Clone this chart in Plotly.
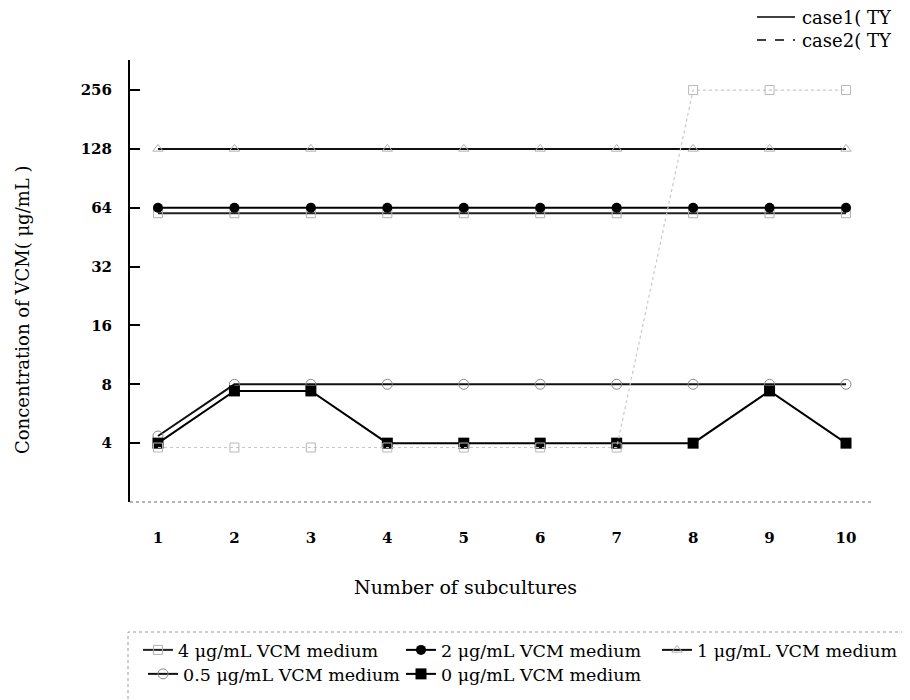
import plotly.graph_objects as go

subcultures = [1, 2, 3, 4, 5, 6, 7, 8, 9, 10]
x_tick_labels = ["1", "2", "3", "4", "5", "6", "7", "8", "9", "10"]
y_tick_values = [4, 8, 16, 32, 64, 128, 256]
y_tick_labels = ["4", "8", "16", "32", "64", "128", "256"]

vcm4_case1 = [60, 60, 60, 60, 60, 60, 60, 60, 60, 60]
vcm4_case2 = [3.8, 3.8, 3.8, 3.8, 3.8, 3.8, 3.8, 256, 256, 256]
vcm2 = [64, 64, 64, 64, 64, 64, 64, 64, 64, 64]
vcm1 = [128, 128, 128, 128, 128, 128, 128, 128, 128, 128]
vcm05 = [4.35, 8, 8, 8, 8, 8, 8, 8, 8, 8]
vcm0 = [4, 7.4, 7.4, 4, 4, 4, 4, 4, 7.4, 4]

WIDE = "DejaVu Serif"

# plot area on screen: x 130..872, y 60..502 (page has 8px body offset)
def px(xs):
    return (xs - 130) / 742

def py(ys):
    return (502 - ys) / 442

# container coordinates (whole figure), screen offset 8px
def cx(xs):
    return (xs - 8) / 910

def cy(ys):
    return 1 - (ys - 8) / 700

fig = go.Figure()

fig.add_trace(go.Scatter(
    x=subcultures, y=vcm4_case1, mode="lines+markers", name="4 μg/mL VCM medium",
    line=dict(color="#222222", width=2),
    marker=dict(symbol="square-open", size=9, color="#b0b0b0", line=dict(width=1)),
    legend="legend",
))
fig.add_trace(go.Scatter(
    x=subcultures, y=vcm2, mode="lines+markers", name="2 μg/mL VCM medium",
    line=dict(color="#000000", width=2),
    marker=dict(symbol="circle", size=10, color="#000000"),
    legend="legend2",
))
fig.add_trace(go.Scatter(
    x=subcultures, y=vcm1, mode="lines+markers", name="1 μg/mL VCM medium",
    line=dict(color="#111111", width=2),
    marker=dict(symbol="triangle-up-open", size=9, color="#b0b0b0", line=dict(width=1)),
    legend="legend3",
))
fig.add_trace(go.Scatter(
    x=subcultures, y=vcm05, mode="lines+markers", name="0.5 μg/mL VCM medium",
    line=dict(color="#111111", width=2),
    marker=dict(symbol="circle-open", size=10, color="#888888", line=dict(width=1)),
    legend="legend4",
))
fig.add_trace(go.Scatter(
    x=subcultures, y=vcm0, mode="lines+markers", name="0 μg/mL VCM medium",
    line=dict(color="#000000", width=2),
    marker=dict(symbol="square", size=11, color="#000000"),
    legend="legend5",
))
fig.add_trace(go.Scatter(
    x=subcultures, y=vcm4_case2, mode="lines+markers", name="4 μg/mL VCM medium (case2)",
    showlegend=False,
    line=dict(color="#c8c8c8", width=1.2, dash="dot"),
    marker=dict(symbol="square-open", size=9, color="#b8b8b8", line=dict(width=1)),
))

legend_common = dict(
    orientation="h", xanchor="left", yanchor="top",
    xref="container", yref="container",
    font=dict(family=WIDE, size=17.5, color="black"),
    itemwidth=30, bgcolor="rgba(0,0,0,0)", borderwidth=0,
)
ROW1 = cy(632)
ROW2 = cy(656)

fig.update_layout(
    width=910, height=700,
    margin=dict(l=122, r=46, t=52, b=206),
    paper_bgcolor="white", plot_bgcolor="white",
    font=dict(family=WIDE, size=16, color="black"),
    showlegend=True,
    legend=dict(x=cx(138), y=ROW1, **legend_common),
    legend2=dict(x=cx(401), y=ROW1, **legend_common),
    legend3=dict(x=cx(657), y=ROW1, **legend_common),
    legend4=dict(x=cx(143), y=ROW2, **legend_common),
    legend5=dict(x=cx(401), y=ROW2, **legend_common),
    xaxis=dict(
        range=[0.634, 10.34], tickmode="array", tickvals=subcultures, ticktext=x_tick_labels,
        showgrid=False, zeroline=False, showline=False,
        ticks="", ticklabelstandoff=25,
        tickfont=dict(family=WIDE, size=15, color="black", weight="bold"),
    ),
    yaxis=dict(
        type="log", range=[0.301, 2.562], tickmode="array", tickvals=y_tick_values,
        ticktext=y_tick_labels, showgrid=False, zeroline=False, showline=True,
        linecolor="black", linewidth=2, ticks="inside", ticklen=10, tickcolor="black",
        tickwidth=1.5, ticklabelstandoff=13,
        tickfont=dict(family=WIDE, size=15, color="black", weight="bold"),
    ),
)

# axis titles positioned as in the reference
fig.add_annotation(text="Number of subcultures", xref="paper", yref="paper",
                   x=px(465), y=py(587), xanchor="center", yanchor="middle",
                   showarrow=False, font=dict(family=WIDE, size=19, color="black"))
fig.add_annotation(text="Concentration of VCM( μg/mL )", xref="paper", yref="paper",
                   x=px(22), y=py(310), xanchor="center", yanchor="middle", textangle=-90,
                   showarrow=False, font=dict(family=WIDE, size=18, color="black"))

# dotted grey x-axis line
fig.add_shape(type="line", xref="paper", yref="paper", x0=0, x1=1, y0=0, y1=0,
              line=dict(color="#999999", width=1.5, dash="dot"))

# legend box (bottom), extends past right edge as in reference
fig.add_shape(type="rect", xref="paper", yref="paper",
              x0=px(128), x1=px(940), y0=py(720), y1=py(632),
              line=dict(color="#999999", width=1, dash="dot"), fillcolor="rgba(0,0,0,0)")

# top-right case legend
fig.add_shape(type="line", xref="paper", yref="paper",
              x0=px(757), x1=px(795), y0=py(17), y1=py(17),
              line=dict(color="black", width=1.5))
fig.add_shape(type="line", xref="paper", yref="paper",
              x0=px(757), x1=px(795), y0=py(40), y1=py(40),
              line=dict(color="black", width=1.5, dash="dash"))
fig.add_annotation(text="case1( TY", xref="paper", yref="paper",
                   x=px(800), y=py(18), xanchor="left", yanchor="middle",
                   showarrow=False, font=dict(family=WIDE, size=18, color="black"))
fig.add_annotation(text="case2( TY", xref="paper", yref="paper",
                   x=px(800), y=py(41), xanchor="left", yanchor="middle",
                   showarrow=False, font=dict(family=WIDE, size=18, color="black"))

fig.write_html("out.html")
